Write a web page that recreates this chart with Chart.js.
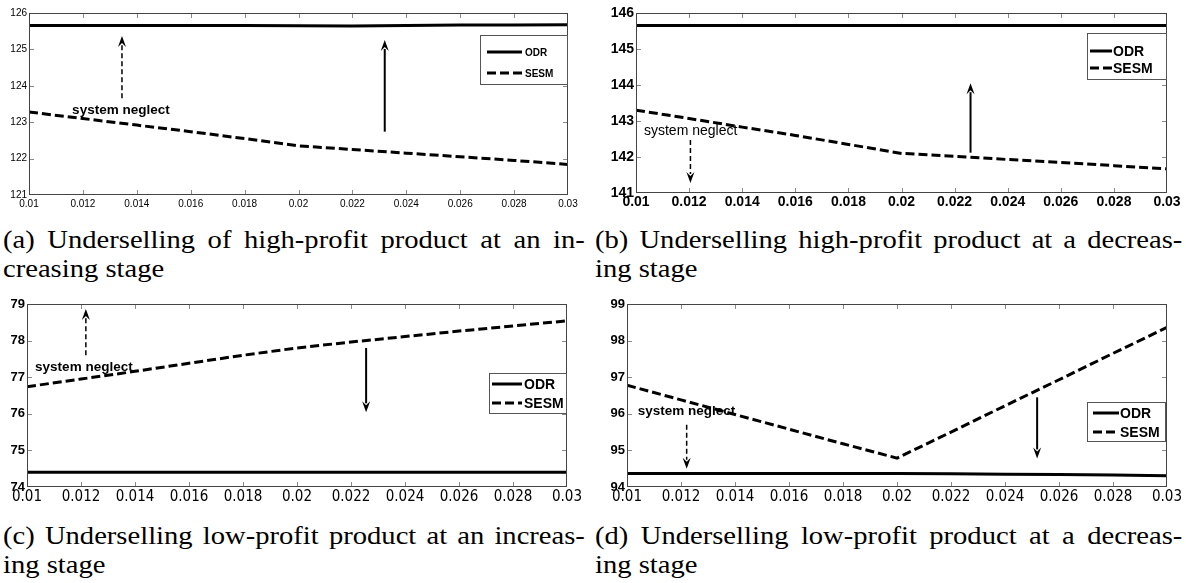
<!DOCTYPE html>
<html>
<head>
<meta charset="utf-8">
<script src="https://cdn.jsdelivr.net/npm/chart.js@4.4.1/dist/chart.umd.min.js"></script>
<style>
body { margin:0; background:#fff; width:1186px; height:583px; position:relative; overflow:hidden; }
canvas { position:absolute; }
.cap { position:absolute; font-family:'Liberation Serif', serif; font-size:26px; line-height:29px; color:#000; white-space:nowrap; transform:scaleX(1.1); transform-origin:0 0; }
.cap .l1 { text-align:justify; text-align-last:justify; }
</style>
</head>
<body>
<canvas id="chart-a"></canvas>
<canvas id="chart-b"></canvas>
<canvas id="chart-c"></canvas>
<canvas id="chart-d"></canvas>

<div class="cap" style="left:3px;top:225px;width:529px"><div class="l1">(a) Underselling of high-profit product at an in-</div><div>creasing stage</div></div>
<div class="cap" style="left:595px;top:225px;width:534px"><div class="l1">(b) Underselling high-profit product at a decreas-</div><div>ing stage</div></div>
<div class="cap" style="left:3px;top:521px;width:529px"><div class="l1">(c) Underselling low-profit product at an increas-</div><div>ing stage</div></div>
<div class="cap" style="left:595px;top:521px;width:534px"><div class="l1">(d) Underselling low-profit product at a decreas-</div><div>ing stage</div></div>

<script>
var xValues = [0.01, 0.012, 0.014, 0.016, 0.018, 0.02, 0.022, 0.024, 0.026, 0.028, 0.03];
var xTickLabels = ['0.01', '0.012', '0.014', '0.016', '0.018', '0.02', '0.022', '0.024', '0.026', '0.028', '0.03'];
var seriesNames = ['ODR', 'SESM'];
var noteText = 'system neglect';

// (a)
var yTicksA = [121, 122, 123, 124, 125, 126];
var odrA  = [125.66, 125.66, 125.66, 125.66, 125.66, 125.65, 125.64, 125.66, 125.67, 125.67, 125.68];
var sesmA = [123.28, 123.10, 122.92, 122.74, 122.55, 122.35, 122.25, 122.15, 122.05, 121.95, 121.84];
// (b)
var yTicksB = [141, 142, 143, 144, 145, 146];
var odrB  = [145.65, 145.65, 145.65, 145.65, 145.65, 145.65, 145.65, 145.65, 145.65, 145.65, 145.65];
var sesmB = [143.30, 143.07, 142.83, 142.60, 142.35, 142.10, 142.02, 141.93, 141.85, 141.76, 141.67];
// (c)
var yTicksC = [74, 75, 76, 77, 78, 79];
var odrC  = [74.40, 74.40, 74.40, 74.40, 74.40, 74.40, 74.40, 74.40, 74.40, 74.40, 74.40];
var sesmC = [76.74, 76.95, 77.16, 77.38, 77.60, 77.80, 77.96, 78.11, 78.26, 78.40, 78.54];
// (d)
var yTicksD = [94, 95, 96, 97, 98, 99];
var odrD  = [94.37, 94.37, 94.37, 94.37, 94.37, 94.37, 94.36, 94.35, 94.34, 94.33, 94.31];
var sesmD = [96.78, 96.38, 95.98, 95.58, 95.18, 94.79, 95.50, 96.22, 96.93, 97.65, 98.36];

// annotation anchors, in data units
var noteA = [0.0116, 123.34];
var noteB = [0.0103, 142.73];
var noteC = [0.0103, 77.26];
var noteD = [0.0104, 96.07];
// arrows: [x, from y, to y, dashed]
var arrowsA = [[0.01345, 123.66, 125.37, true], [0.0232, 122.74, 125.26, false]];
var arrowsB = [[0.01205, 142.47, 141.28, true], [0.0226, 142.12, 144.05, false]];
var arrowsC = [[0.01218, 77.60, 78.86, true], [0.02256, 77.80, 76.04, false]];
var arrowsD = [[0.01221, 95.70, 94.50, true], [0.02519, 96.45, 94.78, false]];

var narrow = "'Liberation Sans Narrow', 'DejaVu Sans Condensed', Arial, sans-serif";
var arial = "'Liberation Sans', Arial, sans-serif";

var panels = [
    { id:'chart-a', left:0, top:0, w:592, h:215, plotL:29, plotT:13, plotR:568, plotB:195,
      yTicks:yTicksA, odr:odrA, sesm:sesmA, note:noteA, arrows:arrowsA,
      yFont:{family:arial, size:10}, xFont:{family:arial, size:10}, xPad:3,
      noteFont:'bold 13.5px ' + arial,
      legend:{x1:480, y1:35, x2:568, y2:85, rows:[52, 73], l1:487, l2:522, tx:525, font:'bold 10px ' + arial} },
    { id:'chart-b', left:593, top:0, w:593, h:215, plotL:636, plotT:13, plotR:1167, plotB:193,
      yTicks:yTicksB, odr:odrB, sesm:sesmB, note:noteB, arrows:arrowsB,
      yFont:{family:arial, size:14, weight:'bold'}, xFont:{family:arial, size:14, weight:'bold'}, xPad:1,
      noteFont:'14px ' + arial,
      legend:{x1:1087, y1:33, x2:1167, y2:80, rows:[51, 68], l1:1090, l2:1112, tx:1113, font:'bold 14px ' + arial} },
    { id:'chart-c', left:0, top:290, w:592, h:215, plotL:27, plotT:304, plotR:567, plotB:487,
      yTicks:yTicksC, odr:odrC, sesm:sesmC, note:noteC, arrows:arrowsC,
      yFont:{family:arial, size:13, weight:'bold'}, xFont:{family:narrow, size:15}, xPad:1,
      noteFont:'bold 13.5px ' + arial,
      legend:{x1:489, y1:373, x2:567, y2:414, rows:[384, 403], l1:492, l2:522, tx:524, font:'bold 14px ' + arial} },
    { id:'chart-d', left:593, top:290, w:593, h:215, plotL:627, plotT:304, plotR:1167, plotB:487,
      yTicks:yTicksD, odr:odrD, sesm:sesmD, note:noteD, arrows:arrowsD,
      yFont:{family:arial, size:13, weight:'bold'}, xFont:{family:narrow, size:15}, xPad:1,
      noteFont:'bold 13.5px ' + arial,
      legend:{x1:1087, y1:402, x2:1166, y2:442, rows:[413, 432], l1:1093, l2:1119, tx:1120, font:'bold 14px ' + arial} }
];

function drawArrow(ctx, x, y1, y2, dashed) {
    var dir = y2 < y1 ? -1 : 1;
    var head = 9;
    ctx.save();
    ctx.strokeStyle = '#000';
    ctx.fillStyle = '#000';
    ctx.lineWidth = dashed ? 1.5 : 2;
    ctx.setLineDash(dashed ? [5, 3] : []);
    ctx.beginPath();
    ctx.moveTo(x, y1);
    ctx.lineTo(x, y2 - dir * head);
    ctx.stroke();
    ctx.setLineDash([]);
    ctx.beginPath();
    ctx.moveTo(x, y2);
    ctx.lineTo(x - 4, y2 - dir * (head + 2));
    ctx.lineTo(x, y2 - dir * (head - 2));
    ctx.lineTo(x + 4, y2 - dir * (head + 2));
    ctx.closePath();
    ctx.fill();
    ctx.restore();
}

function decor(p) {
    return {
        id: 'decor',
        afterDraw: function(chart) {
            var ctx = chart.ctx, a = chart.chartArea;
            var xs = chart.scales.x, ys = chart.scales.y;
            var ox = p.left, oy = p.top;
            ctx.save();
            // inward tick marks on all four sides
            ctx.strokeStyle = '#8a8a8a';
            ctx.lineWidth = 1;
            ctx.beginPath();
            for (var i = 1; i < xValues.length - 1; i++) {
                var px = Math.round(xs.getPixelForValue(xValues[i])) + 0.5;
                ctx.moveTo(px, a.bottom); ctx.lineTo(px, a.bottom - 5);
                ctx.moveTo(px, a.top); ctx.lineTo(px, a.top + 5);
            }
            for (var j = 1; j < p.yTicks.length - 1; j++) {
                var py = Math.round(ys.getPixelForValue(p.yTicks[j])) + 0.5;
                ctx.moveTo(a.left, py); ctx.lineTo(a.left + 5, py);
                ctx.moveTo(a.right, py); ctx.lineTo(a.right - 5, py);
            }
            ctx.stroke();
            // axes box
            ctx.strokeStyle = '#444';
            ctx.strokeRect(a.left + 0.5, a.top + 0.5, a.right - a.left - 1, a.bottom - a.top - 1);

            // arrows and note
            p.arrows.forEach(function(ar) {
                drawArrow(ctx, xs.getPixelForValue(ar[0]), ys.getPixelForValue(ar[1]), ys.getPixelForValue(ar[2]), ar[3]);
            });
            ctx.fillStyle = '#000';
            ctx.font = p.noteFont;
            ctx.textAlign = 'left';
            ctx.textBaseline = 'middle';
            ctx.fillText(noteText, xs.getPixelForValue(p.note[0]), ys.getPixelForValue(p.note[1]));

            // legend box
            var lg = p.legend;
            ctx.fillStyle = '#fff';
            ctx.fillRect(lg.x1 - ox, lg.y1 - oy, lg.x2 - lg.x1, lg.y2 - lg.y1);
            ctx.strokeStyle = '#555';
            ctx.lineWidth = 1;
            ctx.strokeRect(lg.x1 - ox + 0.5, lg.y1 - oy + 0.5, lg.x2 - lg.x1 - 1, lg.y2 - lg.y1 - 1);
            chart.data.datasets.forEach(function(ds, k) {
                var ry = lg.rows[k] - oy;
                ctx.strokeStyle = '#000';
                ctx.lineWidth = 3;
                ctx.setLineDash(ds.borderDash || []);
                ctx.beginPath();
                ctx.moveTo(lg.l1 - ox, ry);
                ctx.lineTo(lg.l2 - ox, ry);
                ctx.stroke();
                ctx.setLineDash([]);
                ctx.fillStyle = '#000';
                ctx.font = lg.font;
                ctx.fillText(ds.label, lg.tx - ox, ry + 1);
            });
            ctx.restore();
        }
    };
}

panels.forEach(function(p) {
    var canvas = document.getElementById(p.id);
    canvas.width = p.w;
    canvas.height = p.h;
    canvas.style.left = p.left + 'px';
    canvas.style.top = p.top + 'px';
    canvas.style.width = p.w + 'px';
    canvas.style.height = p.h + 'px';

    var toPoints = function(vals) {
        return vals.map(function(v, i) { return { x: xValues[i], y: v }; });
    };

    new Chart(canvas.getContext('2d'), {
        type: 'line',
        data: {
            datasets: [{
                label: seriesNames[0],
                data: toPoints(p.odr),
                borderColor: '#000',
                borderWidth: 3,
                pointRadius: 0,
                tension: 0
            }, {
                label: seriesNames[1],
                data: toPoints(p.sesm),
                borderColor: '#000',
                borderWidth: 3,
                borderDash: [9, 4],
                pointRadius: 0,
                tension: 0
            }]
        },
        options: {
            animation: false,
            responsive: false,
            devicePixelRatio: 1,
            layout: {
                padding: { top: p.plotT - p.top, right: p.left + p.w - p.plotR, left: 0, bottom: 0 }
            },
            plugins: { legend: { display: false }, tooltip: { enabled: false } },
            scales: {
                x: {
                    type: 'linear',
                    min: xValues[0],
                    max: xValues[xValues.length - 1],
                    afterBuildTicks: function(s) { s.ticks = xValues.map(function(v) { return { value: v }; }); },
                    afterFit: function(s) { s.height = p.top + p.h - p.plotB; },
                    grid: { display: false, drawTicks: false },
                    border: { display: false },
                    ticks: {
                        padding: p.xPad,
                        color: '#000',
                        font: p.xFont,
                        maxRotation: 0,
                        autoSkip: false,
                        callback: function(v, i) { return xTickLabels[i]; }
                    }
                },
                y: {
                    type: 'linear',
                    min: p.yTicks[0],
                    max: p.yTicks[p.yTicks.length - 1],
                    afterBuildTicks: function(s) { s.ticks = p.yTicks.map(function(v) { return { value: v }; }); },
                    afterFit: function(s) { s.width = p.plotL - p.left; },
                    grid: { display: false, drawTicks: false },
                    border: { display: false },
                    ticks: {
                        padding: 2,
                        color: '#000',
                        font: p.yFont,
                        autoSkip: false,
                        callback: function(v) { return String(v); }
                    }
                }
            }
        },
        plugins: [decor(p)]
    });
});
</script>
</body>
</html>
